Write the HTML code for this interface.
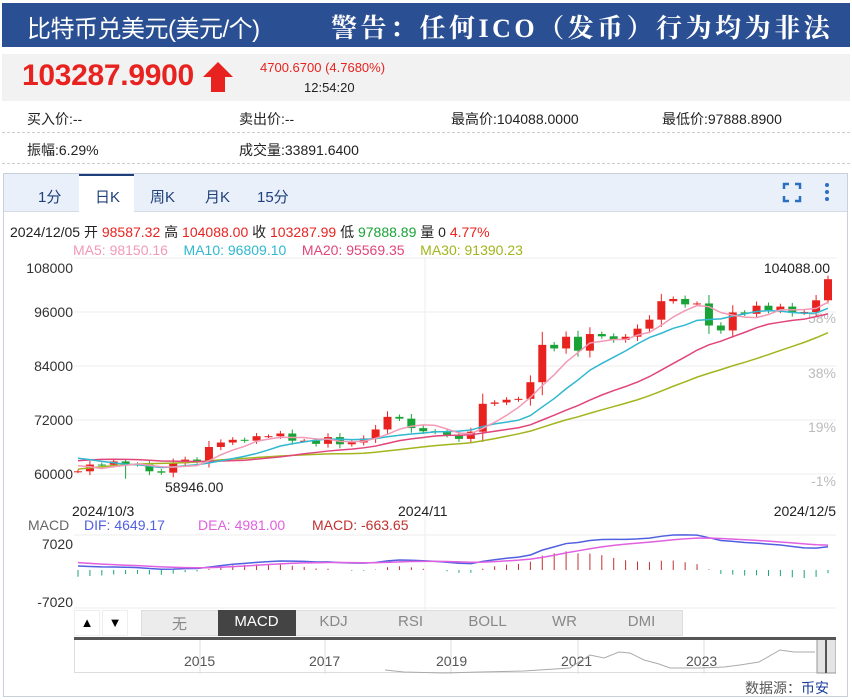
<!DOCTYPE html>
<html><head><meta charset="utf-8">
<style>
*{margin:0;padding:0;box-sizing:border-box}
body{width:852px;height:700px;background:#fff;font-family:"Liberation Sans","Noto Sans CJK SC",sans-serif;position:relative;overflow:hidden}
.abs{position:absolute;white-space:nowrap}
</style></head><body>
<div class="abs" style="left:2px;top:3px;width:848px;height:44px;background:#2b4f93"></div>
<div class="abs" style="left:27px;top:9px;font-size:24px;color:#fff;letter-spacing:-0.5px">比特币兑美元(美元/个)</div>
<div class="abs" style="left:331px;top:8px;font-size:26px;color:#fff;font-weight:bold;font-family:'Liberation Serif','Noto Serif CJK SC',serif;letter-spacing:3.5px">警告：任何ICO（发币）行为均为非法</div>

<div class="abs" style="left:2px;top:54px;width:848px;height:47px;background:#f2f2f2"></div>
<div class="abs" style="left:22px;top:59px;font-size:30px;color:#e8231f;font-weight:bold;letter-spacing:-0.3px">103287.9900</div>
<svg class="abs" style="left:201px;top:60px" width="34" height="34"><polygon points="17,2 32,17 24,17 24,32 10,32 10,17 2,17" fill="#e8231f"/></svg>
<div class="abs" style="left:260px;top:60px;font-size:13px;color:#e8231f">4700.6700 (4.7680%)</div>
<div class="abs" style="left:304px;top:80px;font-size:13px;color:#222">12:54:20</div>

<div class="abs" style="left:27px;top:109px;font-size:14px;color:#222">买入价:--</div>
<div class="abs" style="left:239px;top:109px;font-size:14px;color:#222">卖出价:--</div>
<div class="abs" style="left:451px;top:109px;font-size:14px;color:#222">最高价:104088.0000</div>
<div class="abs" style="left:662px;top:109px;font-size:14px;color:#222">最低价:97888.8900</div>
<div class="abs" style="left:2px;top:132px;width:848px;border-top:1px dashed #ccc"></div>
<div class="abs" style="left:27px;top:140px;font-size:14px;color:#222">振幅:6.29%</div>
<div class="abs" style="left:239px;top:140px;font-size:14px;color:#222">成交量:33891.6400</div>
<div class="abs" style="left:2px;top:163px;width:848px;border-top:1px dashed #ccc"></div>

<div class="abs" style="left:3px;top:173px;width:845px;height:524px;border:1px solid #c8d0dc"></div>
<div class="abs" style="left:4px;top:174px;width:843px;height:38px;background:#eaf0f9;border-bottom:1px solid #d5dce8"></div>
<div class="abs" style="left:79px;top:174px;width:55px;height:39px;background:#fff;border-top:2px solid #1f3f7a"></div>
<div class="abs" style="left:38px;top:186px;font-size:15px;color:#1f3f7a">1分</div>
<div class="abs" style="left:95px;top:186px;font-size:15px;color:#1f3f7a">日K</div>
<div class="abs" style="left:150px;top:186px;font-size:15px;color:#1f3f7a">周K</div>
<div class="abs" style="left:205px;top:186px;font-size:15px;color:#1f3f7a">月K</div>
<div class="abs" style="left:257px;top:186px;font-size:15px;color:#1f3f7a">15分</div>
<svg class="abs" style="left:782px;top:182px" width="50" height="22"><g stroke="#2a6fc0" stroke-width="2.5" fill="none"><path d="M2 7V2H7M13 2H18V7M18 14V19H13M7 19H2V14"/></g><g fill="#2a6fc0"><circle cx="45" cy="3" r="2"/><circle cx="45" cy="10" r="2"/><circle cx="45" cy="17" r="2"/></g></svg>

<div class="abs" style="left:10px;top:222px;font-size:14px;color:#222">2024/12/05 开 <span style="color:#e8231f">98587.32</span> 高 <span style="color:#e8231f">104088.00</span> 收 <span style="color:#e8231f">103287.99</span> 低 <span style="color:#19a337">97888.89</span> 量 0 <span style="color:#e8231f">4.77%</span></div>
<div class="abs" style="left:73px;top:242px;font-size:14px"><span style="color:#f29ab6">MA5: 98150.16</span>&nbsp;&nbsp;&nbsp;&nbsp;<span style="color:#2fb8cf">MA10: 96809.10</span>&nbsp;&nbsp;&nbsp;&nbsp;<span style="color:#e0457b">MA20: 95569.35</span>&nbsp;&nbsp;&nbsp;&nbsp;<span style="color:#a3b51c">MA30: 91390.23</span></div>

<svg class="abs" style="left:0;top:0" width="852" height="700" id="chart">
<g stroke="#eee" stroke-width="1">
<line x1="74" y1="258" x2="836" y2="258"/><line x1="74" y1="312" x2="836" y2="312"/><line x1="74" y1="366" x2="836" y2="366"/><line x1="74" y1="420" x2="836" y2="420"/><line x1="74" y1="474" x2="836" y2="474"/>
<line x1="425" y1="258" x2="425" y2="610"/>
<line x1="74" y1="535" x2="836" y2="535"/><line x1="74" y1="608" x2="836" y2="608"/>
</g>
<g font-size="14" fill="#333" text-anchor="end">
<text x="73" y="273">108000</text><text x="73" y="317">96000</text><text x="73" y="371">84000</text><text x="73" y="425">72000</text><text x="73" y="479">60000</text>
</g>
<g font-size="14" fill="#bbb" text-anchor="end">
<text x="836" y="323">58%</text><text x="836" y="378">38%</text><text x="836" y="432">19%</text><text x="836" y="486">-1%</text>
</g>
<text x="165" y="492" font-size="14" fill="#222">58946.00</text>
<text x="830" y="273" font-size="14" fill="#222" text-anchor="end">104088.00</text>
<text x="72" y="516" font-size="14" fill="#222">2024/10/3</text>
<text x="398" y="516" font-size="14" fill="#222">2024/11</text>
<text x="836" y="516" font-size="14" fill="#222" text-anchor="end">2024/12/5</text>
<text x="28" y="530" font-size="14" fill="#666">MACD</text>
<text x="84" y="530" font-size="14" fill="#5060e0">DIF: 4649.17</text>
<text x="198" y="530" font-size="14" fill="#e060e0">DEA: 4981.00</text>
<text x="312" y="530" font-size="14" fill="#c03030">MACD: -663.65</text>
<text x="73" y="549" font-size="14" fill="#333" text-anchor="end">7020</text>
<text x="73" y="607" font-size="14" fill="#333" text-anchor="end">-7020</text>
<g id="plot"></g>
</svg>

<div class="abs" style="left:74px;top:610px;width:26px;height:26px;border:1px solid #eee;font-size:13px;text-align:center;line-height:24px">▲</div>
<div class="abs" style="left:102px;top:610px;width:26px;height:26px;border:1px solid #eee;font-size:13px;text-align:center;line-height:24px">▼</div>
<div class="abs" style="left:141px;top:610px;width:542px;height:26px;background:#ececec;border:1px solid #ddd"></div>
<div class="abs" style="left:218px;top:610px;width:78px;height:26px;background:#444"></div>
<div class="abs" style="left:141px;top:613px;width:542px;font-size:15px;color:#888;display:flex">
<span style="width:77px;text-align:center">无</span><span style="width:77px;text-align:center;color:#fff">MACD</span><span style="width:77px;text-align:center">KDJ</span><span style="width:77px;text-align:center">RSI</span><span style="width:77px;text-align:center">BOLL</span><span style="width:77px;text-align:center">WR</span><span style="width:77px;text-align:center">DMI</span></div>
<div class="abs" style="left:74px;top:637px;width:762px;height:3px;background:#555"></div>
<div class="abs" style="left:74px;top:640px;width:762px;height:33px;border-bottom:1px solid #ddd;border-left:1px solid #ddd"></div>
<svg class="abs" style="left:74px;top:640px" width="762" height="34">
<g stroke="#ddd"><line x1="126" y1="0" x2="126" y2="34"/><line x1="251" y1="0" x2="251" y2="34"/><line x1="377" y1="0" x2="377" y2="34"/><line x1="504" y1="0" x2="504" y2="34"/><line x1="630" y1="0" x2="630" y2="34"/></g>
<g font-size="14" fill="#555"><text x="110" y="26">2015</text><text x="235" y="26">2017</text><text x="362" y="26">2019</text><text x="487" y="26">2021</text><text x="612" y="26">2023</text></g>
<polyline fill="none" stroke="#aaa" stroke-width="1" points="311,30 330,32 370,33 406,32 450,31 496,28 505,22 516,15 530,18 545,12 556,13 570,20 585,24 596,28 626,28 650,27 666,25 685,22 706,10 720,12 741,12"/>
<rect x="743" y="-3" width="19" height="36" fill="#e4e4e4" stroke="#999"/><line x1="752" y1="-3" x2="752" y2="33" stroke="#555" stroke-width="2"/>
</svg>
<div class="abs" style="left:745px;top:678px;font-size:14px;color:#555">数据源：<span style="color:#1a3a9a">币安</span></div>

<script>
var pre=[56200,54000,54800,54900,57000,57600,57400,58100,60600,60000,59200,58200,60300,61800,62900,63200,63400,63600,63300,64300,63100,65200,65800,65900,65600,63300,63300,63900,60800,60600];
var c=[60600,62100,62050,62800,62200,62100,60600,60300,62400,63200,62800,66000,67000,67600,67400,68400,68400,69000,67400,67400,66700,68200,66600,67000,67900,69900,72700,72300,70200,69500,69300,68700,67800,69400,75600,75900,76500,76700,80400,88700,87900,90500,87400,91100,90600,89800,90500,92300,94300,98400,98900,97700,97900,93000,91900,95900,95600,97400,96400,97200,95800,96000,98600,103288];
var all=pre.concat(c),P=pre.length,n=c.length;
function X(i){return 78+i*(750/(n-1));}
function Y(p){return 474-(p-60000)/12000*54;}
var s='';
for(var i=0;i<n;i++){
 var o=all[P+i-1],cl=c[i],up=cl>=o,col=up?'#e8231f':'#19a337';
 var h=Math.max(o,cl)+Math.abs(cl-o)*0.3+400,l=Math.min(o,cl)-Math.abs(cl-o)*0.3-400;
 if(i==4)l=58946;if(i==n-1){h=104088;l=97888;}
 var x=X(i);
 s+='<line x1="'+x+'" y1="'+Y(h)+'" x2="'+x+'" y2="'+Y(l)+'" stroke="'+col+'"/>';
 var t=Y(Math.max(o,cl)),b=Y(Math.min(o,cl));
 s+='<rect x="'+(x-4)+'" y="'+t+'" width="8" height="'+Math.max(1,b-t)+'" fill="'+col+'"/>';
}
function ma(k,col){var pts=[];for(var i=0;i<n;i++){var sum=0,m=0;for(var j=0;j<k;j++){var idx=P+i-j;if(idx>=0){sum+=all[idx];m++;}}pts.push(X(i)+','+Y(sum/m));}
 s+='<polyline fill="none" stroke="'+col+'" stroke-width="1.5" points="'+pts.join(' ')+'"/>';}
ma(30,'#a3b51c');ma(20,'#e0457b');ma(10,'#2fb8cf');ma(5,'#f29ab6');
var e12=all[0],e26=all[0],dea=0,dif=[],de=[];
for(var k=0;k<all.length;k++){e12=e12*11/13+all[k]*2/13;e26=e26*25/27+all[k]*2/27;var d=e12-e26;dea=dea*0.8+d*0.2;dif.push(d);de.push(dea);}
function MY(v){return 570-v/7020*35;}
var a=[],b2=[];
for(var i=0;i<n;i++){var d=dif[P+i],e=de[P+i],m=2*(d-e),x=X(i);
 s+='<line x1="'+x+'" y1="570" x2="'+x+'" y2="'+MY(m)+'" stroke="'+(m>=0?'#c03030':'#1aa37a')+'"/>';
 a.push(x+','+MY(d));b2.push(x+','+MY(e));}
s+='<polyline fill="none" stroke="#5060e0" stroke-width="1.5" points="'+a.join(' ')+'"/>';
s+='<polyline fill="none" stroke="#e060e0" stroke-width="1.5" points="'+b2.join(' ')+'"/>';
document.getElementById('plot').innerHTML=s;
</script>
</body></html>
